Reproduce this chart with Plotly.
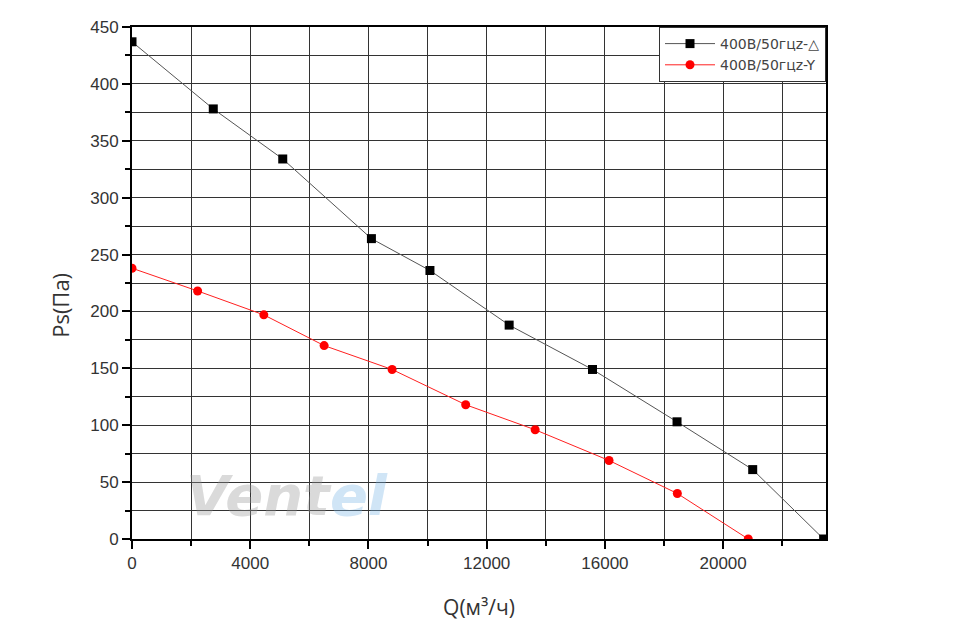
import plotly.graph_objects as go

# Data
q_delta = [0, 2750, 5100, 8100, 10080, 12760, 15580, 18440, 21000, 23400]
ps_delta = [437, 378, 334, 264, 236, 188, 149, 103, 61, 0]

q_star = [0, 2220, 4460, 6500, 8800, 11290, 13640, 16140, 18450, 20850]
ps_star = [238, 218, 197, 170, 149, 118, 96, 69, 40, 0]

name_delta = "400В/50гцz-△"
name_star = "400В/50гцz-Y"

x_title = "Q(м³/ч)"
y_title = "Ps(Па)"

fig = go.Figure()
fig.add_trace(go.Scatter(
    x=q_delta, y=ps_delta, name=name_delta, mode="lines+markers",
    line=dict(color="#555555", width=1),
    marker=dict(symbol="square", size=9, color="black"),
))
fig.add_trace(go.Scatter(
    x=q_star, y=ps_star, name=name_star, mode="lines+markers",
    line=dict(color="#ff2020", width=1),
    marker=dict(symbol="circle", size=9, color="#ff0000"),
))

# faint watermark
fig.add_annotation(
    xref="paper", yref="paper", x=0.075, y=0.085, xanchor="left", yanchor="middle",
    text="<b><i><span style='color:rgba(150,150,150,0.35)'>Vent</span>"
         "<span style='color:rgba(120,180,230,0.35)'>el</span></i></b>",
    showarrow=False,
    font=dict(family="DejaVu Sans", size=56),
)

# y-axis title as annotation to match position
fig.add_annotation(
    xref="paper", yref="paper", x=-0.104, y=0.457, xanchor="center", yanchor="middle",
    text=y_title, textangle=-90, showarrow=False,
    font=dict(family="Open Sans", size=22, color="#333333"),
)

axis_common = dict(
    showline=True, linecolor="black", linewidth=2, mirror=True,
    showgrid=True, gridcolor="#333333", gridwidth=1.3,
    ticks="outside", ticklen=8, tickwidth=1.5, tickcolor="black",
    tickfont=dict(family="Liberation Sans, Arial", size=17, color="#333333"),
    zeroline=False, tickformat="d",
)

fig.update_xaxes(
    range=[0, 23480], dtick=4000, tick0=0,
    minor=dict(dtick=2000, showgrid=True, gridcolor="#333333", gridwidth=1.3,
               ticks="outside", ticklen=5, tickcolor="black"),
    title=dict(text=x_title, font=dict(family="Open Sans", size=21, color="#333333"), standoff=28),
    **axis_common,
)
fig.update_yaxes(
    range=[0, 450], dtick=50, tick0=0,
    minor=dict(dtick=25, showgrid=True, gridcolor="#333333", gridwidth=1.3,
               ticks="outside", ticklen=5, tickcolor="black"),
    **axis_common,
)

fig.update_layout(
    width=961, height=633,
    margin=dict(l=132, r=135, t=27, b=94),
    paper_bgcolor="white", plot_bgcolor="white",
    showlegend=True,
    legend=dict(
        x=1, y=1, xanchor="right", yanchor="top",
        bgcolor="white", bordercolor="#333333", borderwidth=1,
        font=dict(family="DejaVu Sans", size=14, color="#444444"),
        itemwidth=50, tracegroupgap=0,
    ),
)

fig.write_html("out.html")
